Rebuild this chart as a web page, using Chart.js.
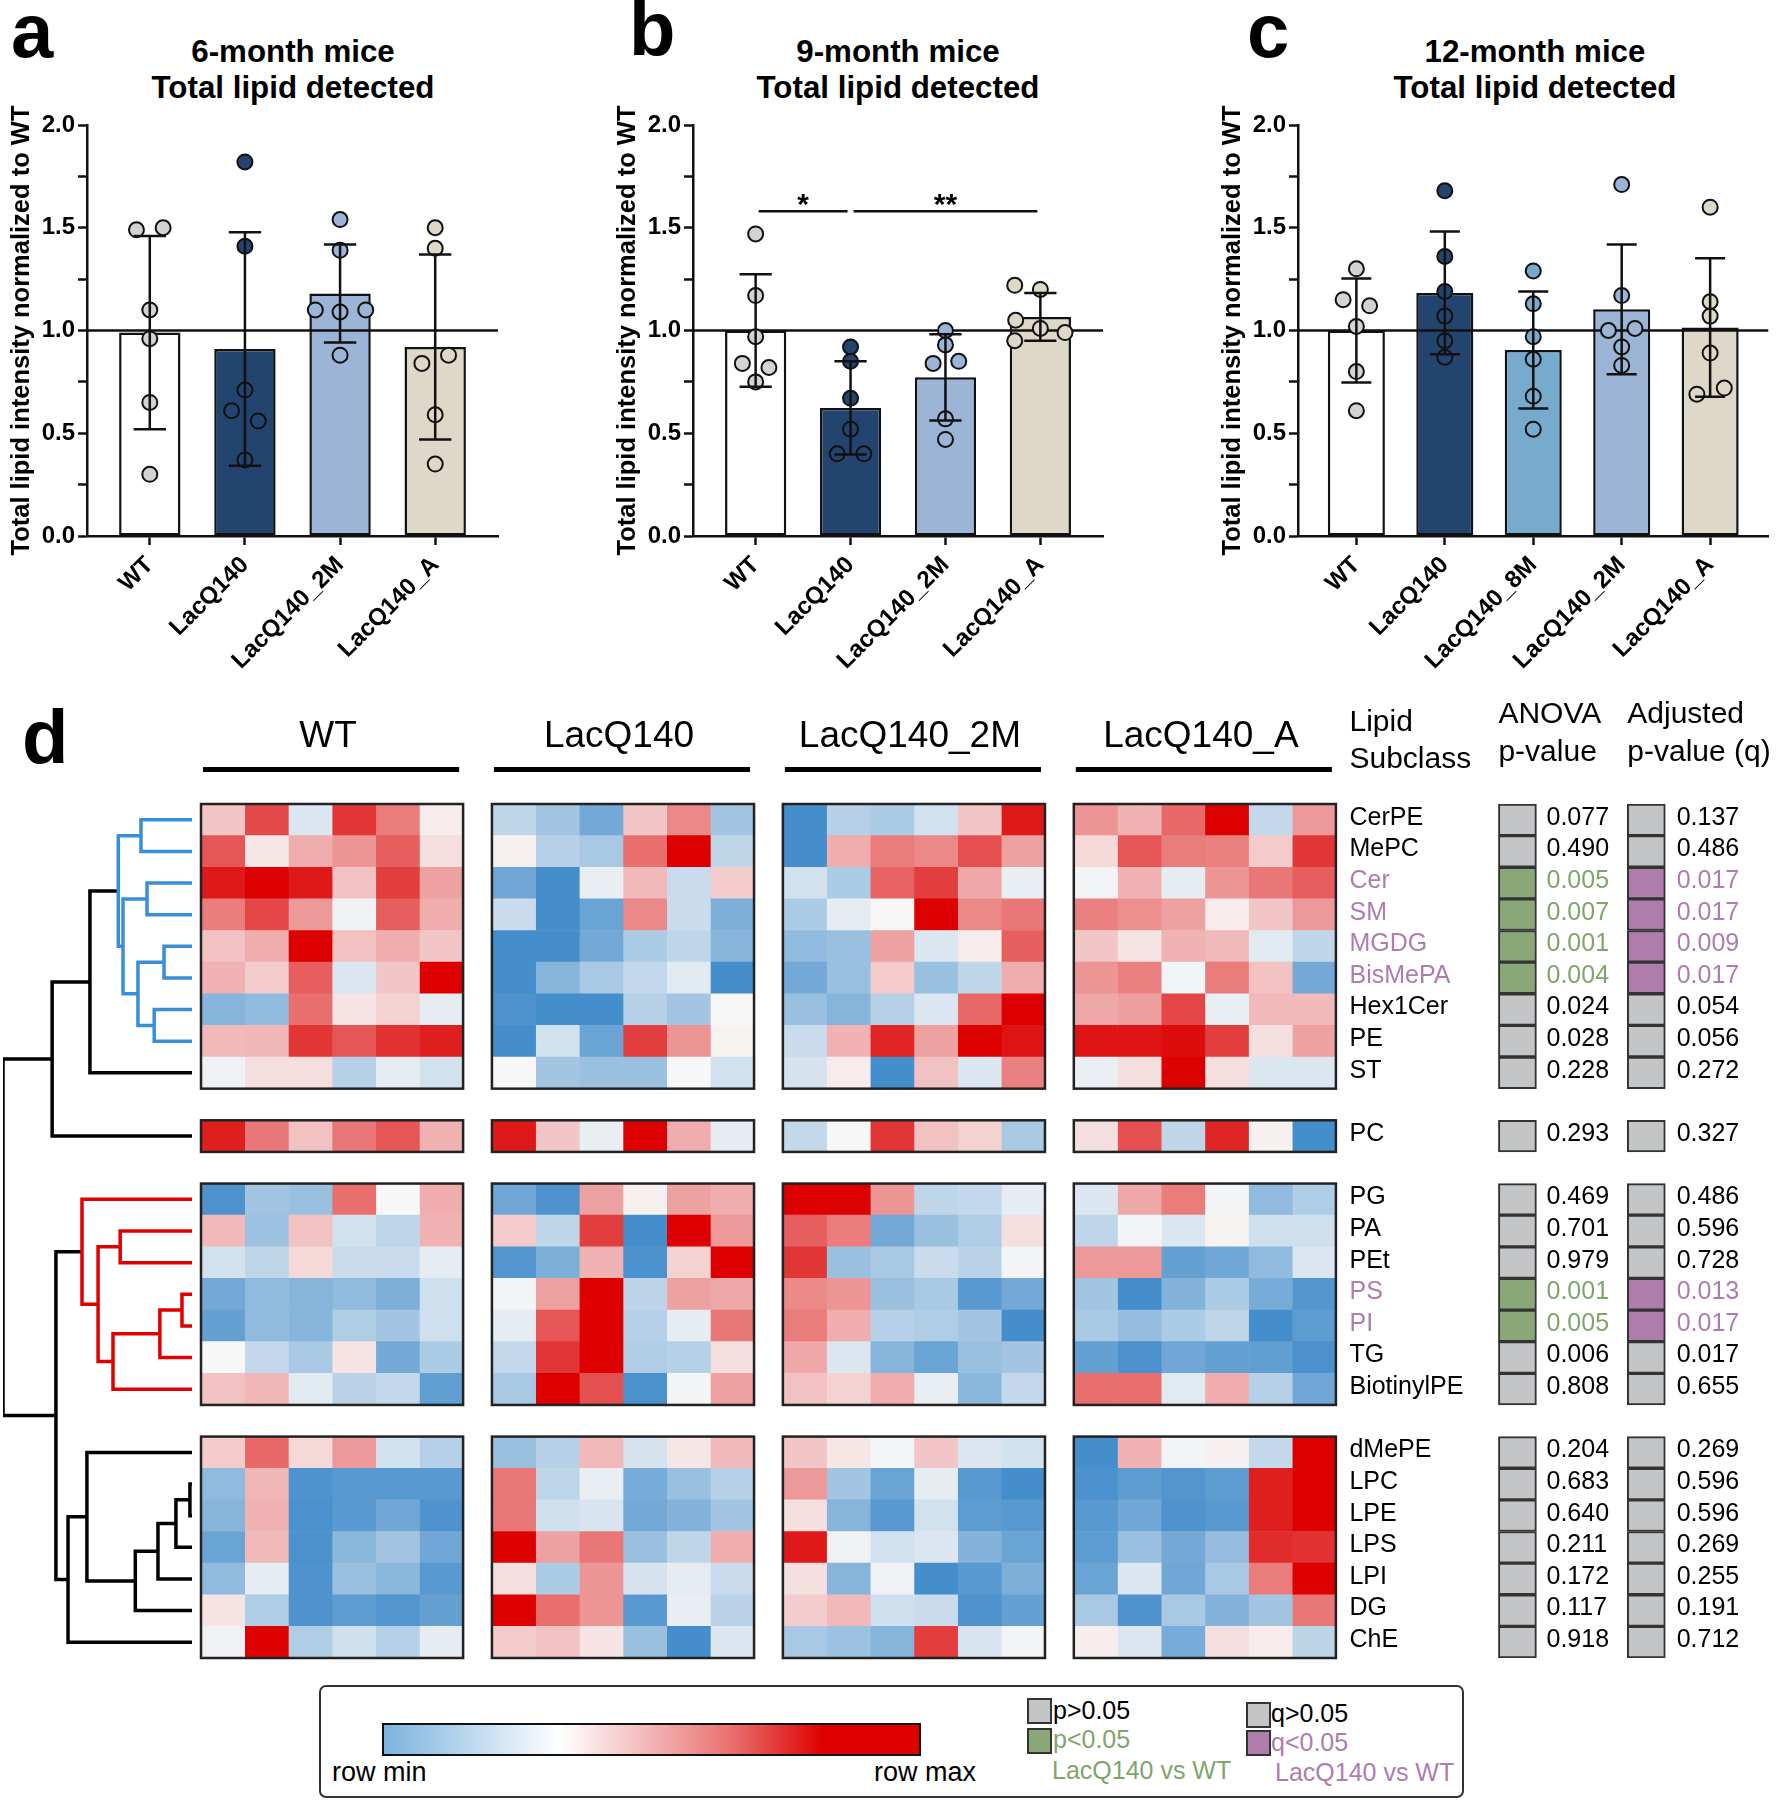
<!DOCTYPE html>
<html>
<head>
<meta charset="utf-8">
<script src="https://cdn.jsdelivr.net/npm/chart.js@4.4.1/dist/chart.umd.min.js"></script>
<style>
  body { margin: 0; background: #fff; }
  #page { position: relative; width: 1778px; height: 1800px; overflow: hidden; background: #fff;
          font-family: "Liberation Sans", Arial, Helvetica, sans-serif; color: #000; }
  #page canvas { position: absolute; }
  .abs { position: absolute; white-space: nowrap; line-height: 1; }
  .letter { font-weight: bold; font-size: 76px; }
  .ptitle { position: absolute; width: 500px; text-align: center; font-weight: bold; font-size: 31.3px; line-height: 36px; }
  #legendBox { position: absolute; left: 319px; top: 1685px; width: 1145px; height: 113px; box-sizing: border-box;
               border: 2px solid #333; border-radius: 7px; }
  #gradBar { position: absolute; left: 382px; top: 1723px; width: 539px; height: 33px; box-sizing: border-box; border: 2px solid #111;
             background: linear-gradient(to right, #7db3df 0%, #ffffff 33%, #f3b4b4 50%, #e86a6a 66%, #e00000 82%, #e00000 100%); }
  .sw { position: absolute; width: 25px; height: 26px; box-sizing: border-box; border: 2px solid #333; }
  .lg { font-size: 25px; }
</style>
</head>
<body>
<div id="page">
  <div class="abs letter" style="left:11px; top:-7px;">a</div>
  <div class="abs letter" style="left:629px; top:-9px;">b</div>
  <div class="abs letter" style="left:1247px; top:-7px;">c</div>
  <div class="abs letter" style="left:22px; top:699px;">d</div>

  <div class="ptitle" style="left:43px; top:34px;">6-month mice<br>Total lipid detected</div>
  <div class="ptitle" style="left:648px; top:34px;">9-month mice<br>Total lipid detected</div>
  <div class="ptitle" style="left:1285px; top:34px;">12-month mice<br>Total lipid detected</div>

  <canvas id="chartA" width="520" height="680" style="left:0px; top:0px;"></canvas>
  <canvas id="chartB" width="517" height="680" style="left:606px; top:0px;"></canvas>
  <canvas id="chartC" width="567" height="680" style="left:1211px; top:0px;"></canvas>

  <canvas id="dendro" width="200" height="990" style="left:0px; top:680px;"></canvas>
  <canvas id="heat" width="1583" height="990" style="left:195px; top:680px;"></canvas>

  <div id="legendBox"></div>
  <div id="gradBar"></div>
  <div class="abs" style="left:332px; top:1759px; font-size:27px;">row min</div>
  <div class="abs" style="right:802px; top:1759px; font-size:27px;">row max</div>
  <div class="sw" style="left:1027px; top:1698px; background:#c3c5c7;"></div>
  <div class="sw" style="left:1027px; top:1728px; background:#8aa777;"></div>
  <div class="abs lg" style="left:1053px; top:1698px;">p&gt;0.05</div>
  <div class="abs lg" style="left:1053px; top:1727px; color:#7fa56b;">p&lt;0.05</div>
  <div class="abs lg" style="left:1052px; top:1758px; color:#7fa56b;">LacQ140 vs WT</div>
  <div class="sw" style="left:1246px; top:1702px; background:#c3c5c7;"></div>
  <div class="sw" style="left:1246px; top:1730px; background:#ae7dac;"></div>
  <div class="abs lg" style="left:1271px; top:1701px;">q&gt;0.05</div>
  <div class="abs lg" style="left:1271px; top:1730px; color:#ad7daf;">q&lt;0.05</div>
  <div class="abs lg" style="left:1275px; top:1760px; color:#ad7daf;">LacQ140 vs WT</div>
</div>

<script>
// ---- panels a-c : total lipid, normalized to WT ----
const groupsAB = ['WT', 'LacQ140', 'LacQ140_2M', 'LacQ140_A'];
const groupsC = ['WT', 'LacQ140', 'LacQ140_8M', 'LacQ140_2M', 'LacQ140_A'];

const meansA = [0.99, 0.91, 1.18, 0.92];
const sdA = [0.47, 0.568, 0.238, 0.45];
const pointsA = [
  [1.49, 1.50, 1.10, 0.96, 0.65, 0.30],
  [1.82, 1.41, 0.71, 0.61, 0.56, 0.37],
  [1.54, 1.39, 1.10, 1.09, 1.10, 0.88],
  [1.50, 1.40, 0.84, 0.88, 0.59, 0.35]
];
const jitterA = [
  [-0.14, 0.14, 0, 0, 0, 0],
  [0, 0, 0, -0.14, 0.14, 0],
  [0, 0, -0.26, 0, 0.27, 0],
  [0, 0, -0.14, 0.14, 0, 0]
];

const meansB = [1.0, 0.623, 0.772, 1.066];
const sdB = [0.274, 0.227, 0.21, 0.116];
const pointsB = [
  [1.47, 1.17, 0.97, 0.84, 0.82, 0.75],
  [0.92, 0.85, 0.67, 0.52, 0.40, 0.40],
  [1.00, 0.93, 0.84, 0.85, 0.57, 0.47],
  [1.22, 1.20, 1.05, 1.01, 0.99, 0.95]
];
const jitterB = [
  [0, 0, 0, -0.14, 0.14, 0],
  [0, 0, 0, 0, -0.14, 0.14],
  [0, 0, -0.13, 0.14, 0, 0],
  [-0.27, 0, -0.26, 0, 0.26, -0.27]
];
const sigB = [
  { from: 0, to: 1, y: 1.58, label: '*' },
  { from: 1, to: 3, y: 1.58, label: '**' }
];

const meansC = [1.0, 1.183, 0.905, 1.103, 1.015];
const sdC = [0.253, 0.299, 0.285, 0.316, 0.337];
const pointsC = [
  [1.30, 1.15, 1.12, 1.02, 0.80, 0.61],
  [1.68, 1.36, 1.19, 1.07, 0.95, 0.87],
  [1.29, 1.13, 0.97, 0.86, 0.68, 0.52],
  [1.71, 1.17, 1.00, 1.01, 0.92, 0.83],
  [1.60, 1.14, 1.07, 0.89, 0.72, 0.69]
];
const jitterC = [
  [0, -0.15, 0.15, 0, 0, 0],
  [0, 0, 0, 0, 0, 0],
  [0, 0, 0, 0, 0, 0],
  [0, 0, -0.15, 0.15, 0, 0],
  [0, 0, 0, 0, 0.16, -0.15]
];

const yTicksMajor = ['0.0', '0.5', '1.0', '1.5', '2.0'];

// ---- panel d : heatmap (row-scaled, -1 = row min, 1 = row max) ----
const lipidNames = ['CerPE', 'MePC', 'Cer', 'SM', 'MGDG', 'BisMePA', 'Hex1Cer', 'PE', 'ST',
  'PC',
  'PG', 'PA', 'PEt', 'PS', 'PI', 'TG', 'BiotinylPE',
  'dMePE', 'LPC', 'LPE', 'LPS', 'LPI', 'DG', 'ChE'];
const rowBlocks = [9, 1, 7, 7];
const heatGroupNames = ['WT', 'LacQ140', 'LacQ140_2M', 'LacQ140_A'];

const heatWT = [
  [0.2, 0.7, -0.15, 0.78, 0.5, 0.05],
  [0.65, 0.07, 0.3, 0.4, 0.62, 0.1],
  [0.9, 1.0, 0.9, 0.22, 0.75, 0.35],
  [0.5, 0.72, 0.38, -0.05, 0.62, 0.3],
  [0.22, 0.3, 1.0, 0.22, 0.3, 0.2],
  [0.28, 0.18, 0.62, -0.15, 0.2, 1.0],
  [-0.6, -0.55, 0.55, 0.08, 0.15, -0.1],
  [0.25, 0.26, 0.78, 0.65, 0.8, 0.88],
  [-0.05, 0.1, 0.1, -0.35, -0.1, -0.2],
  [0.88, 0.52, 0.22, 0.52, 0.65, 0.28],
  [-0.9, -0.45, -0.5, 0.55, 0.0, 0.3],
  [0.25, -0.48, 0.22, -0.2, -0.3, 0.28],
  [-0.2, -0.3, 0.12, -0.25, -0.25, -0.1],
  [-0.7, -0.55, -0.6, -0.55, -0.65, -0.22],
  [-0.78, -0.55, -0.6, -0.38, -0.45, -0.22],
  [0.0, -0.28, -0.42, 0.08, -0.7, -0.4],
  [0.22, 0.26, -0.12, -0.33, -0.28, -0.8],
  [0.18, 0.58, 0.12, 0.38, -0.2, -0.35],
  [-0.55, 0.26, -0.9, -0.85, -0.85, -0.85],
  [-0.6, 0.28, -0.92, -0.85, -0.72, -0.9],
  [-0.75, 0.25, -0.92, -0.58, -0.45, -0.72],
  [-0.55, -0.1, -0.9, -0.5, -0.58, -0.85],
  [0.08, -0.38, -0.9, -0.82, -0.88, -0.78],
  [-0.05, 1.0, -0.38, -0.22, -0.35, -0.1]
];
const heatLac = [
  [-0.3, -0.45, -0.7, 0.2, 0.45, -0.45],
  [0.03, -0.35, -0.42, 0.55, 1.0, -0.3],
  [-0.72, -0.95, -0.08, 0.25, -0.25, 0.18],
  [-0.25, -0.95, -0.75, 0.45, -0.25, -0.65],
  [-0.95, -0.95, -0.7, -0.4, -0.3, -0.6],
  [-0.95, -0.6, -0.42, -0.28, -0.12, -0.95],
  [-0.9, -0.95, -0.95, -0.35, -0.45, 0.0],
  [-0.95, -0.2, -0.75, 0.75, 0.4, 0.02],
  [0.0, -0.45, -0.5, -0.5, 0.0, -0.2],
  [0.9, 0.2, -0.08, 1.0, 0.3, -0.1],
  [-0.72, -0.9, 0.35, 0.03, 0.35, 0.3],
  [0.18, -0.3, 0.75, -0.95, 1.0, 0.38],
  [-0.88, -0.65, 0.28, -0.92, 0.15, 1.0],
  [-0.03, 0.35, 1.0, -0.32, 0.35, 0.32],
  [-0.1, 0.65, 1.0, -0.35, -0.1, 0.52],
  [-0.28, 0.78, 1.0, -0.38, -0.35, 0.1],
  [-0.42, 1.0, 0.68, -0.92, -0.03, 0.35],
  [-0.5, -0.35, 0.25, -0.18, 0.07, 0.25],
  [0.52, -0.3, -0.08, -0.68, -0.5, -0.35],
  [0.52, -0.22, -0.17, -0.7, -0.62, -0.45],
  [1.0, 0.35, 0.52, -0.5, -0.3, 0.3],
  [0.1, -0.4, 0.4, -0.18, -0.1, -0.25],
  [1.0, 0.55, 0.4, -0.85, -0.08, -0.33],
  [0.18, 0.22, 0.08, -0.5, -0.95, -0.15]
];
const heatLac2M = [
  [-0.95, -0.35, -0.4, -0.2, 0.2, 0.9],
  [-0.95, 0.3, 0.5, 0.45, 0.68, 0.35],
  [-0.2, -0.4, 0.6, 0.75, 0.32, -0.08],
  [-0.4, -0.1, 0.0, 1.0, 0.45, 0.52],
  [-0.55, -0.5, 0.35, -0.15, 0.05, 0.62],
  [-0.7, -0.5, 0.18, -0.5, -0.3, 0.3],
  [-0.5, -0.6, -0.35, -0.15, 0.58, 1.0],
  [-0.25, 0.28, 0.85, 0.35, 1.0, 0.92],
  [-0.18, 0.05, -0.95, 0.22, -0.15, 0.48],
  [-0.28, 0.0, 0.78, 0.22, 0.15, -0.42],
  [1.0, 1.0, 0.4, -0.3, -0.28, -0.1],
  [0.62, 0.5, -0.7, -0.5, -0.38, 0.1],
  [0.78, -0.5, -0.42, -0.25, -0.33, -0.03],
  [0.45, 0.4, -0.5, -0.42, -0.85, -0.7],
  [0.5, 0.3, -0.35, -0.38, -0.45, -0.95],
  [0.32, -0.15, -0.6, -0.75, -0.5, -0.45],
  [0.22, 0.15, 0.3, -0.08, -0.58, -0.28],
  [0.2, 0.07, -0.02, 0.2, -0.15, -0.2],
  [0.38, -0.45, -0.75, -0.1, -0.85, -0.95],
  [0.1, -0.6, -0.85, -0.2, -0.82, -0.85],
  [0.9, -0.05, -0.2, -0.15, -0.62, -0.75],
  [0.1, -0.6, -0.05, -0.95, -0.85, -0.65],
  [0.17, 0.25, -0.22, -0.25, -0.9, -0.78],
  [-0.42, -0.48, -0.6, 0.75, -0.17, -0.03]
];
const heatLacA = [
  [0.4, 0.28, 0.58, 1.0, -0.28, 0.38],
  [0.12, 0.65, 0.5, 0.48, 0.18, 0.78],
  [-0.03, 0.28, -0.1, 0.4, 0.52, 0.62],
  [0.48, 0.42, 0.35, 0.05, 0.2, 0.38],
  [0.2, 0.08, 0.28, 0.25, -0.12, -0.3],
  [0.4, 0.48, -0.03, 0.5, 0.22, -0.7],
  [0.32, 0.36, 0.72, -0.08, 0.25, 0.25],
  [0.92, 0.92, 0.95, 0.75, 0.1, 0.35],
  [-0.07, 0.1, 1.0, 0.1, -0.15, -0.15],
  [0.1, 0.68, -0.3, 0.85, 0.03, -0.95],
  [-0.15, 0.32, 0.5, -0.03, -0.55, -0.38],
  [-0.3, -0.03, -0.15, 0.02, -0.22, -0.22],
  [0.38, 0.38, -0.78, -0.72, -0.55, -0.15],
  [-0.45, -0.95, -0.62, -0.4, -0.68, -0.88],
  [-0.42, -0.52, -0.4, -0.3, -0.95, -0.82],
  [-0.78, -0.92, -0.72, -0.78, -0.8, -0.92],
  [0.55, 0.55, -0.12, 0.3, -0.35, -0.72],
  [-0.95, 0.28, -0.03, 0.03, -0.28, 1.0],
  [-0.92, -0.82, -0.88, -0.82, 0.88, 1.0],
  [-0.85, -0.72, -0.9, -0.85, 0.88, 1.0],
  [-0.82, -0.5, -0.7, -0.52, 0.82, 0.8],
  [-0.75, -0.15, -0.72, -0.42, 0.5, 1.0],
  [-0.42, -0.9, -0.42, -0.62, -0.45, 0.52],
  [0.04, -0.15, -0.68, 0.1, 0.05, -0.32]
];

const anovaP = ['0.077', '0.490', '0.005', '0.007', '0.001', '0.004', '0.024', '0.028', '0.228',
  '0.293', '0.469', '0.701', '0.979', '0.001', '0.005', '0.006', '0.808',
  '0.204', '0.683', '0.640', '0.211', '0.172', '0.117', '0.918'];
const adjQ = ['0.137', '0.486', '0.017', '0.017', '0.009', '0.017', '0.054', '0.056', '0.272',
  '0.327', '0.486', '0.596', '0.728', '0.013', '0.017', '0.017', '0.655',
  '0.269', '0.596', '0.596', '0.269', '0.255', '0.191', '0.712'];
const sigVsWT = ['Cer', 'SM', 'MGDG', 'BisMePA', 'PS', 'PI'];

// dendrogram merges: [left node, right node, height, colour]; leaves are row indices, merge k is node 24 + k
const dendroMerges = [
  [0, 1, 0.27, 'blue'], [2, 3, 0.238, 'blue'], [4, 5, 0.148, 'blue'], [6, 7, 0.20, 'blue'],
  [26, 27, 0.286, 'blue'], [25, 28, 0.365, 'blue'], [24, 29, 0.39, 'blue'],
  [30, 8, 0.54, 'black'], [31, 9, 0.74, 'black'],
  [13, 14, 0.053, 'red'], [33, 15, 0.17, 'red'], [34, 16, 0.418, 'red'], [11, 12, 0.38, 'red'],
  [36, 35, 0.497, 'red'], [10, 37, 0.582, 'red'],
  [18, 19, 0.011, 'black'], [39, 20, 0.085, 'black'], [40, 21, 0.18, 'black'], [41, 22, 0.30, 'black'],
  [17, 42, 0.556, 'black'], [43, 23, 0.656, 'black'], [38, 44, 0.72, 'black'],
  [32, 45, 1.0, 'black']
];

// ---- styling ----
const FONT = '"Liberation Sans", Arial, Helvetica, sans-serif';
Chart.defaults.font.family = FONT;
Chart.defaults.color = '#000';

const colWT = { bar: '#ffffff', dot: '#d1d3d5' };
const colLac = { bar: '#23446e', dot: '#23446e' };
const col8M = { bar: '#77abcd', dot: '#77abcd' };
const col2M = { bar: '#9cb4d6', dot: '#9cb4d6' };
const colA = { bar: '#ddd8c8', dot: '#ddd8c8' };

const PURPLE = '#ad7daf';
const GREEN_TXT = '#7fa56b';
const DENDRO_COLORS = { blue: '#3a8ed6', red: '#e00000', black: '#000' };

// plot area of every bar panel: 87px from canvas left, 125..536 vertically
const AXIS_W = 87;
const PLOT_TOP = 125;
const PLOT_BOTTOM = 536;

function barPanel(canvasId, labels, means, sds, points, jitter, colors, sig, padRight) {
  const n = labels.length;
  const canvas = document.getElementById(canvasId);
  const dots = [];
  const dotColors = [];
  points.forEach((vals, i) => vals.forEach((v, k) => {
    dots.push({ x: i + jitter[i][k], y: v });
    dotColors.push(colors[i].dot);
  }));

  const errorBars = {
    id: 'errorBars',
    afterDatasetsDraw(chart) {
      const { ctx, scales: { x, y } } = chart;
      ctx.save();
      ctx.strokeStyle = '#111';
      ctx.lineWidth = 2.5;
      means.forEach((m, i) => {
        const px = x.getPixelForValue(i);
        const hw = x.getPixelForValue(i + 0.17) - px;
        const top = y.getPixelForValue(m + sds[i]);
        const bot = y.getPixelForValue(m - sds[i]);
        ctx.beginPath();
        ctx.moveTo(px, top); ctx.lineTo(px, bot);
        ctx.moveTo(px - hw, top); ctx.lineTo(px + hw, top);
        ctx.moveTo(px - hw, bot); ctx.lineTo(px + hw, bot);
        ctx.stroke();
      });
      (sig || []).forEach(s => {
        const x0 = x.getPixelForValue(s.from) + 3;
        const x1 = x.getPixelForValue(s.to) - 3;
        const py = y.getPixelForValue(s.y);
        ctx.beginPath();
        ctx.moveTo(x0, py); ctx.lineTo(x1, py);
        ctx.stroke();
        ctx.fillStyle = '#000';
        ctx.font = 'bold 30px ' + FONT;
        ctx.textAlign = 'center';
        ctx.textBaseline = 'alphabetic';
        ctx.fillText(s.label, (x0 + x1) / 2, py + 3);
      });
      ctx.restore();
    }
  };

  return new Chart(canvas, {
    type: 'bar',
    data: {
      datasets: [
        { type: 'scatter', data: dots, backgroundColor: dotColors, borderColor: '#111', borderWidth: 2, pointRadius: 7.5, order: 0 },
        { type: 'line', data: [{ x: -0.66, y: 1 }, { x: n - 0.34, y: 1 }], borderColor: '#111', borderWidth: 2.5, pointRadius: 0, order: 1 },
        { data: means.map((m, i) => ({ x: i, y: m })), backgroundColor: colors.map(c => c.bar), borderColor: '#111',
          borderWidth: 2.5, borderSkipped: false, barPercentage: 0.645, categoryPercentage: 1, order: 2 }
      ]
    },
    options: {
      responsive: false,
      animation: false,
      events: [],
      layout: { padding: { left: 0, right: padRight, top: PLOT_TOP, bottom: 0 } },
      plugins: { legend: { display: false }, tooltip: { enabled: false } },
      scales: {
        x: {
          type: 'linear', min: -0.66, max: n - 0.34, offset: false,
          afterBuildTicks: s => { s.ticks = labels.map((_, i) => ({ value: i })); },
          afterFit: s => { s.height = canvas.height - PLOT_BOTTOM; },
          ticks: { autoSkip: false, minRotation: 45, maxRotation: 45, padding: 6,
                   callback: v => labels[v] ?? '', font: { size: 24, weight: 'bold' }, color: '#000' },
          grid: { offset: false, drawOnChartArea: false, tickLength: 9, tickWidth: 2.5, tickColor: '#111' },
          border: { display: true, color: '#111', width: 2.5 }
        },
        y: {
          min: 0, max: 2,
          afterFit: s => { s.width = AXIS_W; },
          ticks: { stepSize: 0.25, padding: 3, font: { size: 24, weight: 'bold' }, color: '#000',
                   callback: v => {
                     const k = Math.round(v * 2);
                     return Math.abs(v * 2 - k) < 1e-6 ? yTicksMajor[k] : '';
                   } },
          grid: { drawOnChartArea: false, tickLength: 9, tickWidth: 2.5, tickColor: '#111' },
          border: { display: true, color: '#111', width: 2.5 },
          title: { display: true, text: 'Total lipid intensity normalized to WT', color: '#000',
                   font: { size: 25.5, weight: 'bold' }, padding: { top: 7, bottom: 0 } }
        }
      }
    },
    plugins: [errorBars]
  });
}

barPanel('chartA', groupsAB, meansA, sdA, pointsA, jitterA, [colWT, colLac, col2M, colA], null, 22);
barPanel('chartB', groupsAB, meansB, sdB, pointsB, jitterB, [colWT, colLac, col2M, colA], sigB, 20);
barPanel('chartC', groupsC, meansC, sdC, pointsC, jitterC, [colWT, colLac, col8M, col2M, colA], null, 5);

// ---- heatmap ----
function heatColor(v) {
  const end = v < 0 ? [59, 136, 201] : [220, 0, 0];
  const mid = [248, 247, 247];
  const t = Math.min(Math.abs(v), 1);
  return `rgb(${mid.map((m, k) => Math.round(m + (end[k] - m) * t))})`;
}

// row slots with an empty slot between blocks
const slotRows = [];
let rowIdx = 0;
rowBlocks.forEach((size, b) => {
  if (b > 0) slotRows.push(null);
  for (let k = 0; k < size; k++) slotRows.push(rowIdx++);
});
const slotLabels = slotRows.map((r, i) => r === null ? ' '.repeat(i) : lipidNames[r]);

const GROUP_STRIDE = 6.66;       // 6 columns + gap, in column units
const COL = { label: 26.29, pBox: 29.70, pText: 30.80, qBox: 32.65, qText: 33.78, boxW: 0.87 };
const heatGroups = [heatWT, heatLac, heatLac2M, heatLacA];
const isSig = r => sigVsWT.includes(lipidNames[r]);

const heatSets = [];
heatGroups.forEach((grid, g) => {
  for (let c = 0; c < 6; c++) {
    const x0 = g * GROUP_STRIDE + c;
    heatSets.push({
      data: slotRows.map(r => r === null ? null : [x0, x0 + 1]),
      backgroundColor: slotRows.map(r => r === null ? 'rgba(0,0,0,0)' : heatColor(grid[r][c])),
      borderWidth: 0
    });
  }
});
heatSets.push({
  data: slotRows.map(r => r === null ? null : [COL.pBox, COL.pBox + COL.boxW]),
  backgroundColor: slotRows.map(r => r === null ? 'rgba(0,0,0,0)' : (isSig(r) ? '#8aa777' : '#c3c5c7')),
  borderColor: '#333', borderWidth: 2, borderSkipped: false
});
heatSets.push({
  data: slotRows.map(r => r === null ? null : [COL.qBox, COL.qBox + COL.boxW]),
  backgroundColor: slotRows.map(r => r === null ? 'rgba(0,0,0,0)' : (isSig(r) ? '#ae7dac' : '#c3c5c7')),
  borderColor: '#333', borderWidth: 2, borderSkipped: false
});

const heatText = {
  id: 'heatText',
  afterDatasetsDraw(chart) {
    const { ctx, chartArea, scales: { x, y } } = chart;
    const slotH = (chartArea.bottom - chartArea.top) / slotRows.length;
    ctx.save();
    // block frames
    ctx.strokeStyle = '#222';
    ctx.lineWidth = 2.5;
    let s = 0;
    rowBlocks.forEach((size, b) => {
      if (b > 0) s++;
      const top = y.getPixelForValue(s) - slotH / 2;
      heatGroups.forEach((_, g) => {
        const l = x.getPixelForValue(g * GROUP_STRIDE);
        const r = x.getPixelForValue(g * GROUP_STRIDE + 6);
        ctx.strokeRect(l, top, r - l, size * slotH);
      });
      s += size;
    });
    // row labels and p / q values
    ctx.textAlign = 'left';
    ctx.textBaseline = 'middle';
    ctx.font = '25px ' + FONT;
    slotRows.forEach((r, i) => {
      if (r === null) return;
      const py = y.getPixelForValue(i) - 2;
      const sig = isSig(r);
      ctx.fillStyle = sig ? PURPLE : '#000';
      ctx.fillText(lipidNames[r], x.getPixelForValue(COL.label), py);
      ctx.fillStyle = sig ? GREEN_TXT : '#000';
      ctx.fillText(anovaP[r], x.getPixelForValue(COL.pText), py);
      ctx.fillStyle = sig ? PURPLE : '#000';
      ctx.fillText(adjQ[r], x.getPixelForValue(COL.qText), py);
    });
    // column headers
    ctx.fillStyle = '#000';
    ctx.textBaseline = 'alphabetic';
    ctx.textAlign = 'center';
    ctx.font = '37px ' + FONT;
    heatGroupNames.forEach((name, g) => {
      const l = x.getPixelForValue(g * GROUP_STRIDE);
      const r = x.getPixelForValue(g * GROUP_STRIDE + 6);
      ctx.fillText(name, (l + r) / 2 - 4, chartArea.top - 57);
      ctx.fillRect(l + 2, chartArea.top - 37, r - l - 6, 5);
    });
    ctx.textAlign = 'left';
    ctx.font = '30px ' + FONT;
    ctx.fillText('Lipid', x.getPixelForValue(COL.label), chartArea.top - 73);
    ctx.fillText('Subclass', x.getPixelForValue(COL.label), chartArea.top - 36);
    ctx.fillText('ANOVA', x.getPixelForValue(COL.pBox), chartArea.top - 81);
    ctx.fillText('p-value', x.getPixelForValue(COL.pBox), chartArea.top - 43);
    ctx.fillText('Adjusted', x.getPixelForValue(COL.qBox), chartArea.top - 81);
    ctx.fillText('p-value (q)', x.getPixelForValue(COL.qBox), chartArea.top - 43);
    ctx.restore();
  }
};

new Chart(document.getElementById('heat'), {
  type: 'bar',
  data: { labels: slotLabels, datasets: heatSets },
  options: {
    responsive: false,
    animation: false,
    events: [],
    indexAxis: 'y',
    layout: { padding: { left: 6, right: 0, top: 124, bottom: 12 } },
    datasets: { bar: { grouped: false, barPercentage: 1, categoryPercentage: 1 } },
    plugins: { legend: { display: false }, tooltip: { enabled: false } },
    scales: {
      x: { type: 'linear', min: 0, max: 36.1, display: false },
      y: { type: 'category', offset: true, display: false }
    }
  },
  plugins: [heatText]
});

// ---- dendrogram ----
const nodeY = [];
slotRows.forEach((r, i) => { if (r !== null) nodeY[r] = i; });
const nodeH = nodeY.map(() => 0);
const dendroSets = dendroMerges.map(([a, b, h, col]) => {
  const set = {
    data: [{ x: nodeH[a], y: nodeY[a] }, { x: h, y: nodeY[a] }, { x: h, y: nodeY[b] }, { x: nodeH[b], y: nodeY[b] }],
    borderColor: DENDRO_COLORS[col],
    borderWidth: 3.5,
    showLine: true,
    pointRadius: 0,
    borderJoinStyle: 'miter'
  };
  nodeY.push((nodeY[a] + nodeY[b]) / 2);
  nodeH.push(h);
  return set;
});

new Chart(document.getElementById('dendro'), {
  type: 'scatter',
  data: { datasets: dendroSets },
  options: {
    responsive: false,
    animation: false,
    events: [],
    layout: { padding: { left: 3, right: 8, top: 124, bottom: 12 } },
    plugins: { legend: { display: false }, tooltip: { enabled: false } },
    scales: {
      x: { type: 'linear', min: 0, max: 1, reverse: true, display: false },
      y: { type: 'linear', min: -0.5, max: slotRows.length - 0.5, reverse: true, display: false }
    }
  }
});
</script>
</body>
</html>
